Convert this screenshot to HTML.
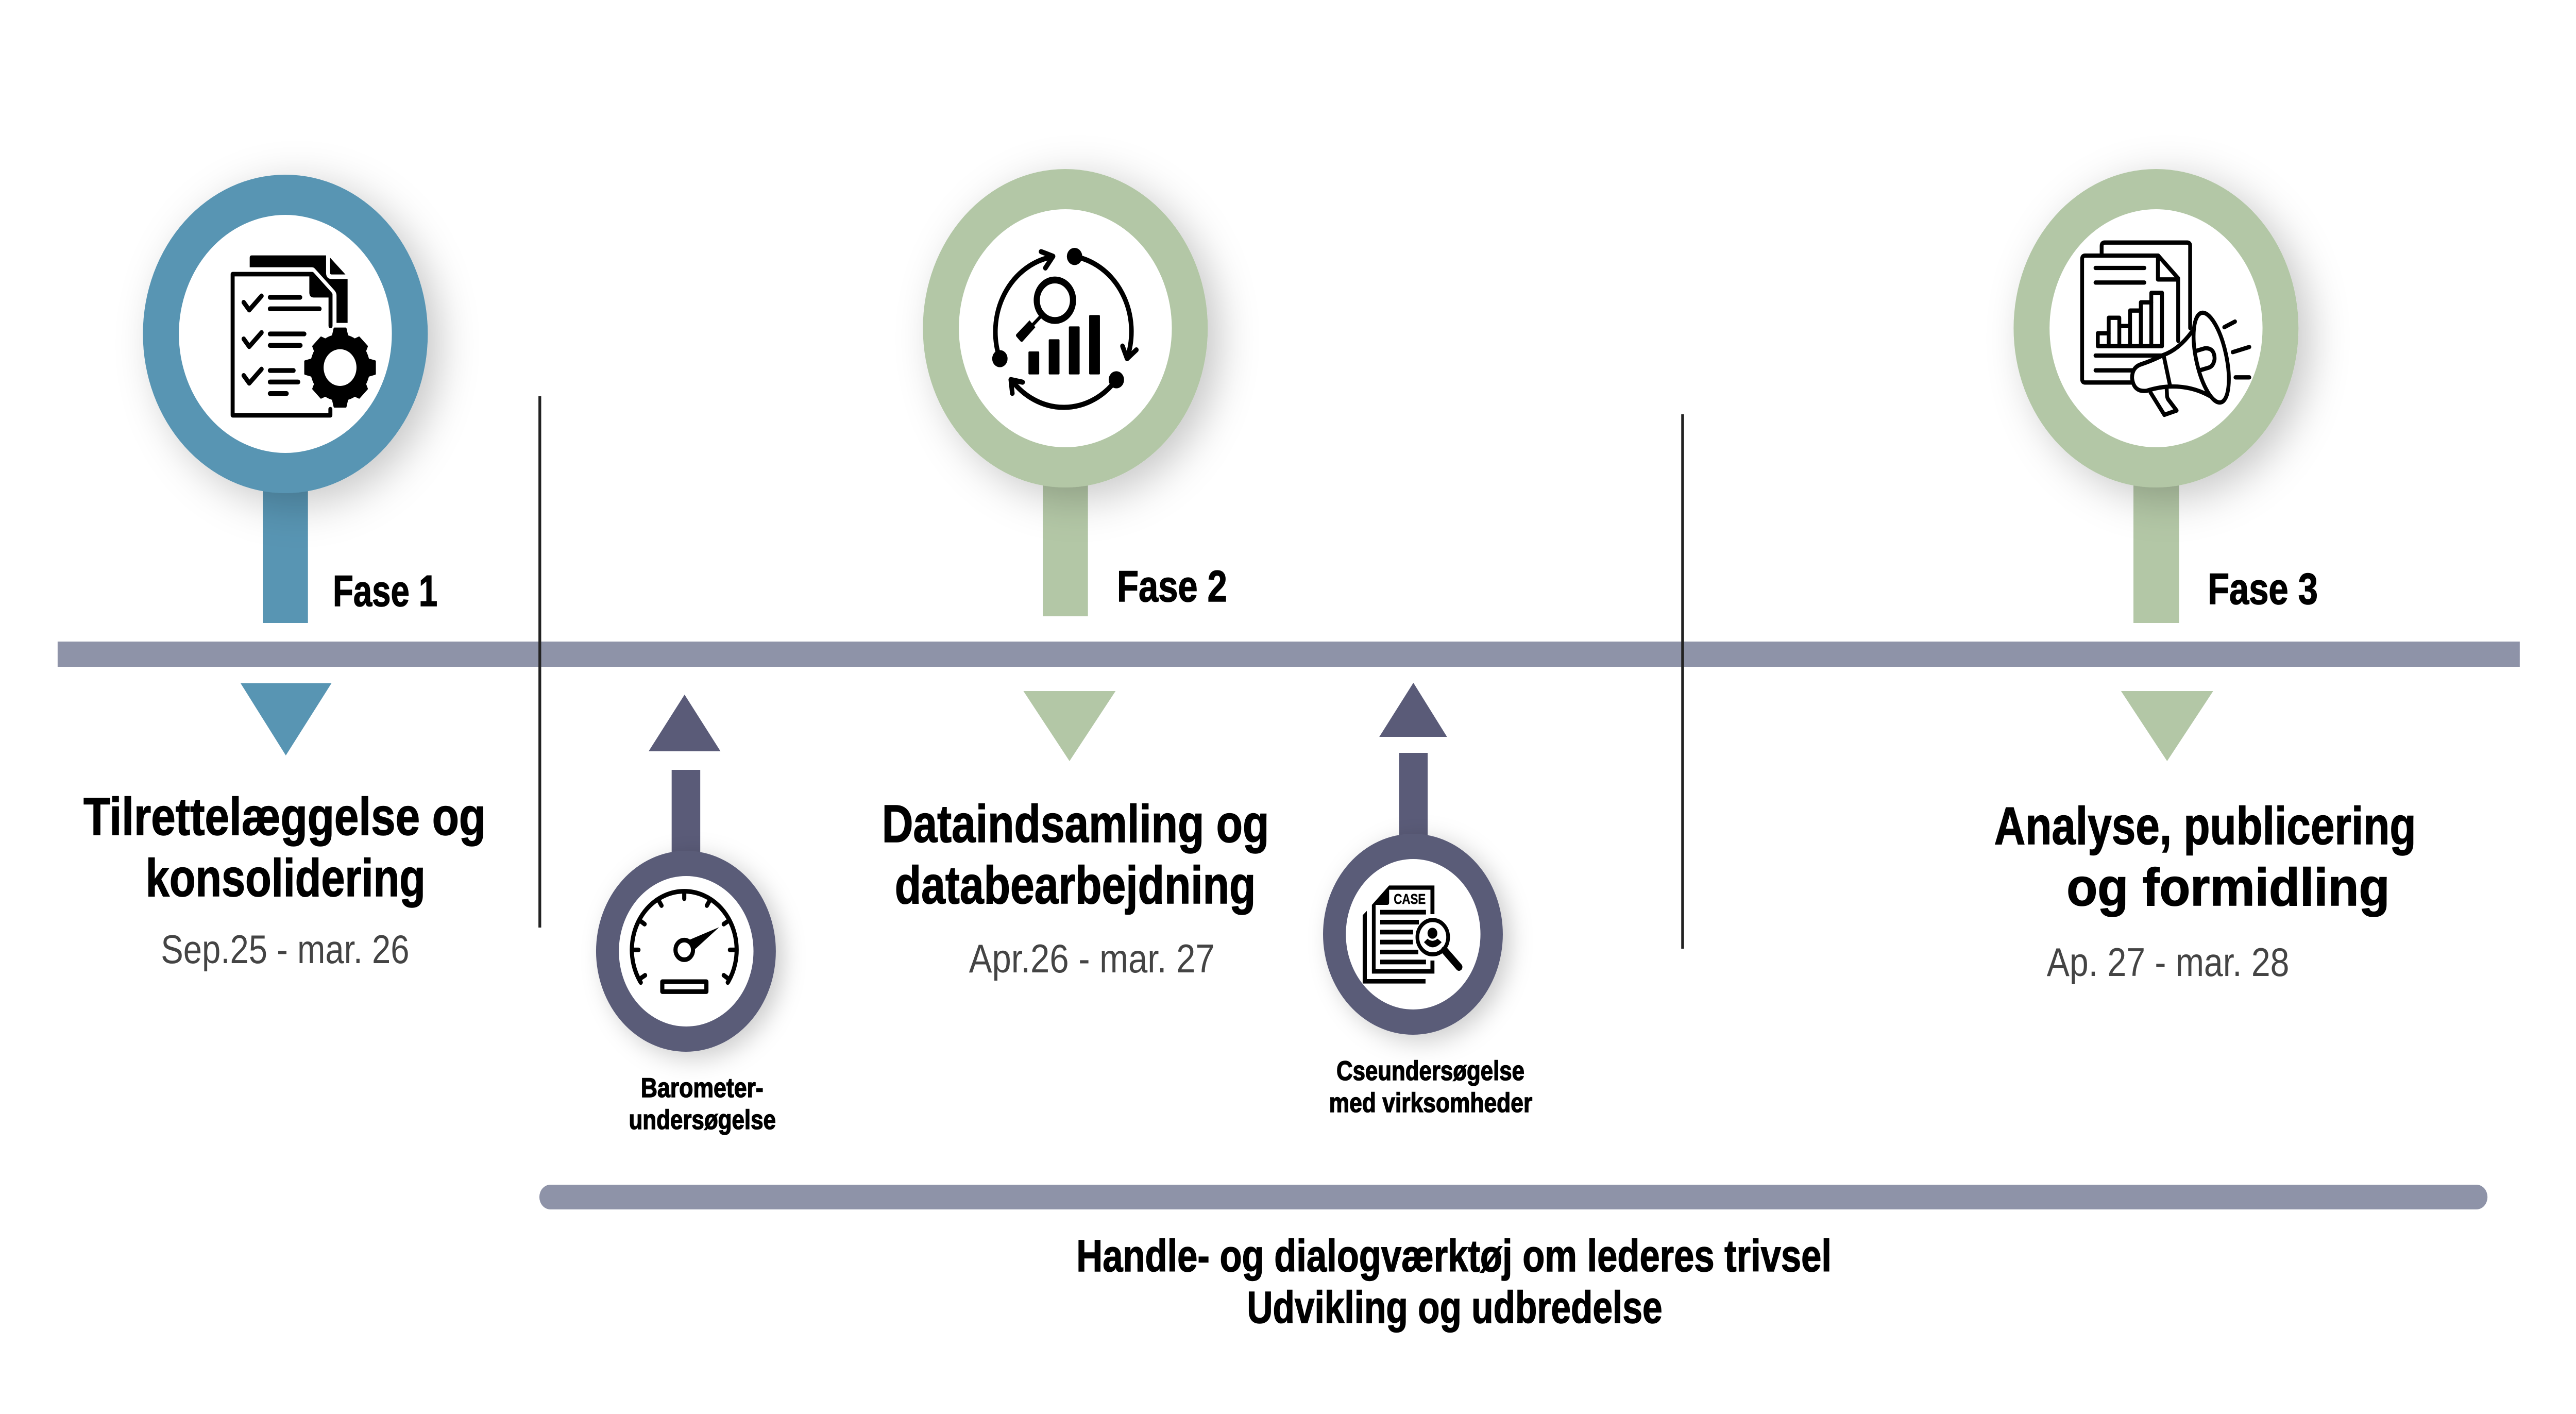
<!DOCTYPE html>
<html lang="da">
<head>
<meta charset="utf-8">
<title>Tidslinje</title>
<style>
html,body{margin:0;padding:0;background:#fff;width:100%;height:100%;overflow:hidden}
svg{position:absolute;left:0;top:0;width:100%;height:100%;display:block;overflow:hidden}
text{font-family:"Liberation Sans",sans-serif;fill:#000}
.b{font-weight:700;stroke:#000;stroke-width:1.5}
.d{fill:#444}
</style>
</head>
<body>
<svg xmlns="http://www.w3.org/2000/svg" viewBox="0 0 5588 2744" preserveAspectRatio="none">
<defs>
<filter id="sb" x="-40%" y="-40%" width="190%" height="190%"><feDropShadow dx="26" dy="20" stdDeviation="42" flood-color="#000" flood-opacity=".22"/></filter>
<filter id="ss" x="-40%" y="-40%" width="190%" height="190%"><feDropShadow dx="16" dy="12" stdDeviation="24" flood-color="#000" flood-opacity=".2"/></filter>
</defs>
<rect width="5588" height="2744" fill="#fff"/>

<!-- timeline bars -->
<rect x="125" y="1245" width="5341" height="49" fill="#8e93a8"/>
<rect x="1170" y="2299" width="4226" height="48" rx="24" fill="#8e93a8"/>

<!-- vertical separators -->
<rect x="1168" y="769" width="6" height="1031" fill="#222"/>
<rect x="3647" y="804" width="6" height="1037" fill="#222"/>

<!-- Fase 1 -->
<rect x="570" y="900" width="98" height="309" fill="#5895b3"/>
<circle cx="619" cy="648" r="309" fill="#5895b3" filter="url(#sb)"/>
<circle cx="619" cy="648" r="231" fill="#fff"/>
<polygon points="522,1326 719,1326 620,1466" fill="#5895b3"/>

<!-- Fase 2 -->
<rect x="2262" y="890" width="98" height="306" fill="#b3c7a6"/>
<circle cx="2311" cy="637" r="309" fill="#b3c7a6" filter="url(#sb)"/>
<circle cx="2311" cy="637" r="231" fill="#fff"/>
<polygon points="2220,1341 2420,1341 2320,1477" fill="#b3c7a6"/>

<!-- Fase 3 -->
<rect x="4628" y="890" width="99" height="319" fill="#b3c7a6"/>
<circle cx="4677" cy="637" r="309" fill="#b3c7a6" filter="url(#sb)"/>
<circle cx="4677" cy="637" r="231" fill="#fff"/>
<polygon points="4601,1341 4801,1341 4701,1477" fill="#b3c7a6"/>

<!-- Barometer marker -->
<polygon points="1407,1458 1563,1458 1485,1348" fill="#5a5b78"/>
<rect x="1457" y="1494" width="62" height="180" fill="#5a5b78"/>
<circle cx="1488" cy="1846" r="195" fill="#5a5b78" filter="url(#ss)"/>
<circle cx="1488.5" cy="1846" r="146" fill="#fff"/>

<!-- Case marker -->
<polygon points="2992,1430 3139,1430 3066,1325" fill="#5a5b78"/>
<rect x="3035" y="1461" width="62" height="180" fill="#5a5b78"/>
<circle cx="3065" cy="1813" r="195" fill="#5a5b78" filter="url(#ss)"/>
<circle cx="3065.5" cy="1813" r="146" fill="#fff"/>

<!-- Icon 1: checklist + gear -->
<g transform="translate(450,440) scale(.33333)">
  <path d="M275,180 Q275,167 288,167 H772 V270 Q774,304 806,304 H912 V560 H840 V400 Q840,385 828,372 L700,245 Q692,236 680,236 H275 Z" fill="#000"/>
  <path d="M798,180 L898,278 H808 Q798,278 798,268 Z" fill="#000"/>
  <path d="M800,1062 V1098 H164 V276 H682 L801,394 V578" fill="none" stroke="#000" stroke-width="26" stroke-linecap="round" stroke-linejoin="round"/>
  <path d="M663,285 V385 Q665,412 692,412 H790 V395 L680,285 Z" fill="#000"/>
  <g fill="none" stroke="#000" stroke-width="28" stroke-linecap="round" stroke-linejoin="round">
    <path d="M236,440 L272,485 L352,403"/>
    <path d="M236,653 L272,698 L352,616"/>
    <path d="M236,866 L272,911 L352,829"/>
    <path d="M407,411 H603 M407,478 H729 M407,624 H630 M407,691 H605 M407,837 H560 M407,904 H590 M407,971 H515"/>
  </g>
  <g transform="translate(863,820)" fill="#000" stroke="#000" stroke-width="10" stroke-linejoin="round">
    <circle r="190"/>
    <polygon points="-37,-228 37,-228 48,-185 48,185 37,228 -37,228 -48,185 -48,-185"/>
    <polygon points="-37,-228 37,-228 48,-185 48,185 37,228 -37,228 -48,185 -48,-185" transform="rotate(90)"/>
    <polygon points="-37,-212 37,-212 48,-185 48,185 37,212 -37,212 -48,185 -48,-185" transform="rotate(45)"/>
    <polygon points="-37,-212 37,-212 48,-185 48,185 37,212 -37,212 -48,185 -48,-185" transform="rotate(135)"/>
    <circle r="107" fill="#fff" stroke="none"/>
  </g>
</g>

<!-- Icon 2: cycle + magnifier + bars -->
<g transform="translate(2130,440) scale(.33333)">
  <g fill="none" stroke="#000" stroke-width="30" stroke-linecap="round" stroke-linejoin="round">
    <path d="M115,765 A443,443 0 0 1 458,175"/>
    <path d="M603,173 A443,443 0 0 1 945,765"/>
    <path d="M875,890 A443,443 0 0 1 195,895"/>
    <path d="M385,145 L463,172 L413,240"/>
    <path d="M915,695 L945,768 L1005,717"/>
    <path d="M265,905 L188,890 L198,970"/>
  </g>
  <circle cx="603" cy="173" r="50" fill="#000"/>
  <circle cx="117" cy="768" r="50" fill="#000"/>
  <circle cx="875" cy="891" r="50" fill="#000"/>
  <circle cx="475" cy="428" r="118" fill="none" stroke="#000" stroke-width="40"/>
  <path d="M385,520 L330,572" stroke="#000" stroke-width="20" fill="none"/>
  <path d="M310,545 L348,585 L265,668 Q258,674 250,666 L225,640 Q218,632 225,625 Z" fill="#000"/>
  <rect x="303" y="726" width="70" height="134" rx="6" fill="#000"/>
  <rect x="435" y="655" width="70" height="205" rx="6" fill="#000"/>
  <rect x="566" y="580" width="70" height="280" rx="6" fill="#000"/>
  <rect x="698" y="514" width="70" height="346" rx="6" fill="#000"/>
</g>

<!-- Icon 3: report + megaphone -->
<g transform="translate(4500,440) scale(.33333)" fill="none" stroke="#000" stroke-width="25" stroke-linecap="round" stroke-linejoin="round">
  <path d="M177,168 V112 Q177,92 197,92 H733 Q753,92 753,112 V590"/>
  <path d="M370,907 H70 Q50,907 50,887 V188 Q50,168 70,168 H545 L675,300 V665"/>
  <path d="M543,175 V307 H670"/>
  <path d="M137,240 H455 M137,325 H455 M137,750 H570 M137,836 H385"/>
  <path d="M152,695 V620 H223 V530 H292 V578 H362 V488 H432 V440 H500 V385 H570 V695 Z"/>
  <path d="M223,620 V695 M292,578 V695 M362,578 V695 M432,488 V695 M500,440 V695"/>
  <path d="M495,965 L585,1095 L665,1070 L610,1005 Q602,995 602,975 L600,940" fill="#fff"/>
  <path d="M765,610 Q680,715 575,748 Q510,778 430,802 Q375,820 375,880 Q385,965 470,955 Q560,930 640,930 Q770,930 880,985 L885,900 Z" fill="#fff" stroke="none"/>
  <path d="M765,610 Q680,715 575,748 Q510,778 430,802 Q375,820 375,880 Q385,965 470,955 Q560,930 640,930 Q770,930 880,985"/>
  <path d="M582,755 L622,925"/>
  <ellipse cx="890" cy="762" rx="98" ry="268" transform="rotate(-13.8 890 762)" fill="#fff"/>
  <path d="M795,722 L848,708 Q912,703 912,770 Q905,815 868,822 L820,835"/>
  <path d="M975,585 L1045,552 M1030,730 L1138,700 M1048,877 H1138"/>
</g>

<!-- Icon 4: gauge -->
<g transform="translate(1340,1710) scale(.33333)">
  <g fill="none" stroke="#000" stroke-width="27" stroke-linecap="round" stroke-linejoin="round">
    <path d="M150,590 A341,341 0 1 1 716,590"/>
    <path d="M433,60 V102 M265,110 L285,142 M145,230 L175,250 M95,400 H135 M730,400 H772 M690,250 L725,228 M580,142 L600,110 M150,565 L178,548 M690,548 L716,565"/>
    <circle cx="433" cy="400" r="57"/>
    <rect x="290" y="585" width="287" height="58"/>
  </g>
  <polygon points="660,268 470,340 505,395" fill="#000"/>
</g>

<!-- Icon 5: case -->
<g transform="translate(2900,1680) scale(.33333)" fill="#000">
  <path d="M168,288 L195,263 V660 H577 V686 H168 Z"/>
  <path d="M228,228 L340,115 H635 V282 H609 V140 H340 V215 Q340,228 327,228 H252 V602 H609 V552 H635 V628 H228 Z"/>
  <rect x="282" y="257" width="298" height="27"/>
  <rect x="282" y="315" width="252" height="27"/>
  <rect x="282" y="373" width="214" height="27"/>
  <rect x="282" y="431" width="213" height="27"/>
  <rect x="282" y="489" width="248" height="27"/>
  <rect x="282" y="547" width="298" height="27"/>
  <circle cx="624" cy="416" r="100" fill="#fff" stroke="#000" stroke-width="24"/>
  <path d="M700,492 L795,590" stroke="#000" stroke-width="44" stroke-linecap="round" fill="none"/>
  <path d="M698,482 L715,497" stroke="#000" stroke-width="20" fill="none"/>
  <circle cx="622" cy="393" r="32"/>
  <path d="M567,445 L590,425 Q622,450 655,425 L682,445 Q625,505 567,445 Z"/>
  <text x="370" y="222" font-size="82" class="b" textLength="208" lengthAdjust="spacingAndGlyphs">CASE</text>
</g>

<!-- Labels -->
<text class="b" x="722" y="1176" font-size="85" textLength="227" lengthAdjust="spacingAndGlyphs">Fase 1</text>
<text class="b" x="2423" y="1167" font-size="85" textLength="239" lengthAdjust="spacingAndGlyphs">Fase 2</text>
<text class="b" x="4789" y="1172" font-size="85" textLength="239" lengthAdjust="spacingAndGlyphs">Fase 3</text>

<text class="b" x="181" y="1620" font-size="103" textLength="873" lengthAdjust="spacingAndGlyphs">Tilrettelæggelse og</text>
<text class="b" x="316" y="1739" font-size="103" textLength="607" lengthAdjust="spacingAndGlyphs">konsolidering</text>
<text class="d" x="349" y="1869" font-size="78" textLength="539" lengthAdjust="spacingAndGlyphs">Sep.25 - mar. 26</text>

<text class="b" x="1913" y="1634" font-size="103" textLength="840" lengthAdjust="spacingAndGlyphs">Dataindsamling og</text>
<text class="b" x="1941" y="1753" font-size="103" textLength="783" lengthAdjust="spacingAndGlyphs">databearbejdning</text>
<text class="d" x="2102" y="1887" font-size="78" textLength="533" lengthAdjust="spacingAndGlyphs">Apr.26 - mar. 27</text>

<text class="b" x="4326" y="1638" font-size="103" textLength="915" lengthAdjust="spacingAndGlyphs">Analyse, publicering</text>
<text class="b" x="4483" y="1757" font-size="103" textLength="701" lengthAdjust="spacingAndGlyphs">og formidling</text>
<text class="d" x="4440" y="1894" font-size="78" textLength="526" lengthAdjust="spacingAndGlyphs">Ap. 27 - mar. 28</text>

<text class="b" x="1390" y="2129" font-size="53" textLength="266" lengthAdjust="spacingAndGlyphs">Barometer-</text>
<text class="b" x="1364" y="2191" font-size="53" textLength="319" lengthAdjust="spacingAndGlyphs">undersøgelse</text>

<text class="b" x="2899" y="2096" font-size="53" textLength="408" lengthAdjust="spacingAndGlyphs">Cseundersøgelse</text>
<text class="b" x="2883" y="2158" font-size="53" textLength="441" lengthAdjust="spacingAndGlyphs">med virksomheder</text>

<text class="b" x="2335" y="2467" font-size="87" textLength="1638" lengthAdjust="spacingAndGlyphs">Handle- og dialogværktøj om lederes trivsel</text>
<text class="b" x="2705" y="2567" font-size="87" textLength="901" lengthAdjust="spacingAndGlyphs">Udvikling og udbredelse</text>
</svg>
</body>
</html>
